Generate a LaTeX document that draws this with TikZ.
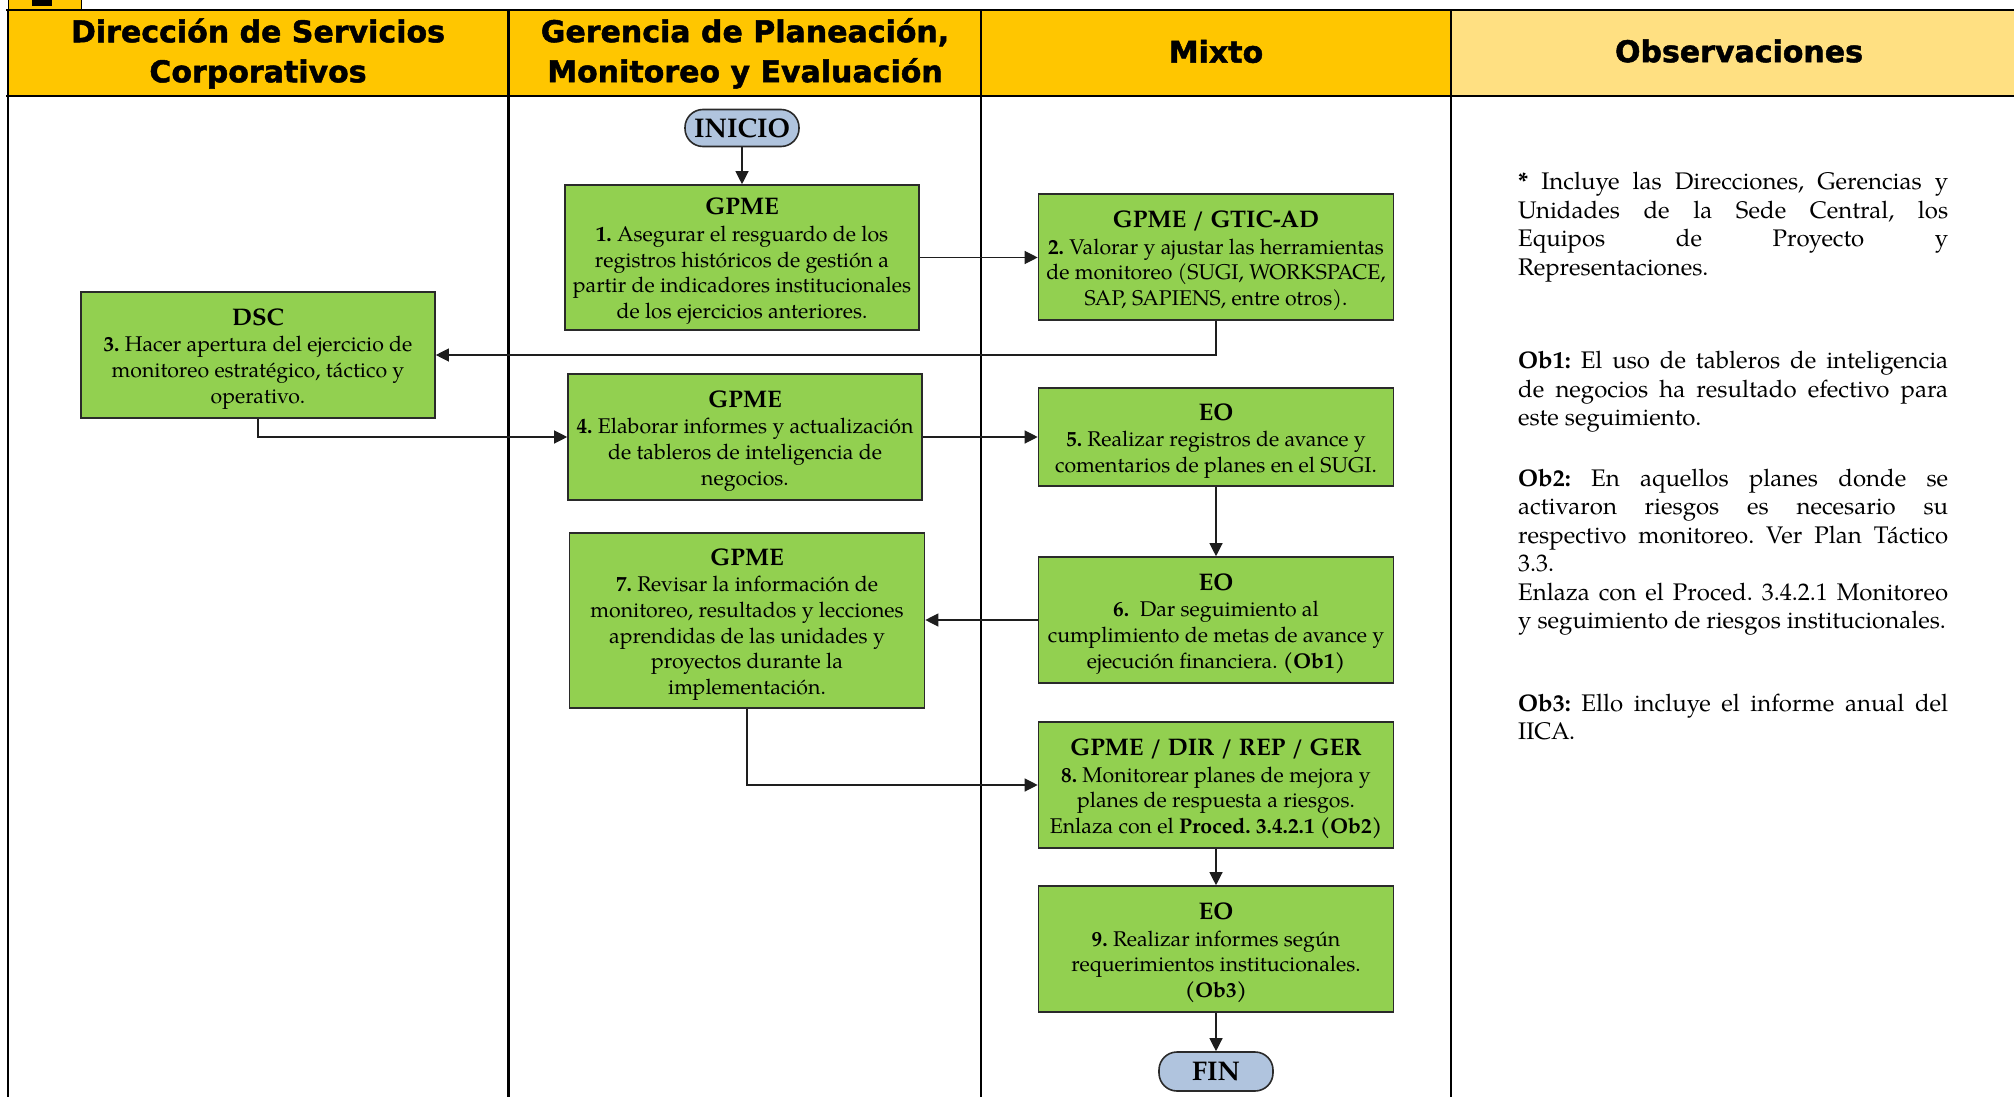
\documentclass[tikz,border=0pt]{standalone}
\usepackage{fontspec}
\setmainfont{TeX Gyre Pagella}
\newfontfamily\hdrfont{DejaVu Sans}[BoldFeatures={FakeBold=1.6}]
\usetikzlibrary{arrows.meta}
\definecolor{gold}{HTML}{FFC600}
\definecolor{lgold}{HTML}{FFE082}
\definecolor{boxgreen}{HTML}{92D050}
\definecolor{boxline}{HTML}{2A2A2A}
\definecolor{termblue}{HTML}{B0C4DE}
\definecolor{arrline}{HTML}{1E1E1E}
\newcommand\ttl[1]{{\fontsize{24}{28}\selectfont\bfseries\rule{0pt}{24.5pt}#1}\\[0.8pt]}
\tikzset{
  hdr/.style={align=center, inner sep=0pt, font=\hdrfont\bfseries\fontsize{30}{40}\selectfont},
  stepbox/.style={draw=boxline, line width=1.6pt, fill=boxgreen, inner sep=0pt,
     align=center, font=\fontsize{21.3}{25.7}\selectfont\frenchspacing},
  term/.style={draw=boxline, line width=1.6pt, fill=termblue, rounded corners=18pt,
     minimum width=114pt, inner sep=0pt, font=\fontsize{27}{30}\selectfont\bfseries},
  obs/.style={anchor=north west, inner sep=0pt, text width=430pt, align=justify,
     font=\fontsize{24}{28.5}\selectfont\frenchspacing},
  arr/.style={draw=arrline, line width=1.2pt, -{Triangle[length=13pt,width=13pt]}}
}
\begin{document}
\begin{tikzpicture}[x=1pt,y=-1pt]
\useasboundingbox (0,0) rectangle (2014,1097);
% header band
\fill[gold] (7.7,10) rectangle (1451,96);
\fill[lgold] (1451,10) rectangle (2014,96);
\draw[fill=gold, line width=1.2pt] (8.3,-3) rectangle (81.7,10);
\fill (31.7,-1) rectangle (51.7,5.7);
\draw[line width=2.6pt] (6.4,10) -- (2014,10);
\draw[line width=2.6pt] (6.4,96) -- (2014,96);
\foreach \x in {7.7,508.6,981,1451} \draw[line width=2.4pt] (\x,10) -- (\x,1097);
% header texts
\node[hdr] (h1) at (258,53.4) {Dirección de Servicios\\Corporativos};
\node[hdr] (h2) at (745,53.4) {Gerencia de Planeación,\\Monitoreo y Evaluación};
\node[hdr] (h3) at (1216,51.5) {Mixto};
\node[hdr] (h4) at (1739,51) {Observaciones};
% terminals
\node[term, minimum height=37pt] (inicio) at (742,128) {INICIO};
\node[term, minimum height=39pt] (fin) at (1216,1071.5) {FIN};
% steps
\node[stepbox, minimum width=354pt, minimum height=145pt] (b1) at (742,257.5)
  {\ttl{GPME}\textbf{1.} Asegurar el resguardo de los\\registros históricos de gestión a\\partir de indicadores institucionales\\de los ejercicios anteriores.};
\node[stepbox, minimum width=355pt, minimum height=126pt] (b2) at (1216,257)
  {\ttl{GPME / GTIC-AD}\textbf{2.} Valorar y ajustar las herramientas\\de monitoreo (SUGI, WORKSPACE,\\SAP, SAPIENS, entre otros).};
\node[stepbox, minimum width=354pt, minimum height=126pt] (b3) at (258,355)
  {\ttl{DSC}\textbf{3.} Hacer apertura del ejercicio de\\monitoreo estratégico, táctico y\\operativo.};
\node[stepbox, minimum width=354pt, minimum height=126pt] (b4) at (745,437)
  {\ttl{GPME}\textbf{4.} Elaborar informes y actualización\\de tableros de inteligencia de\\negocios.};
\node[stepbox, minimum width=355pt, minimum height=98pt] (b5) at (1216,437)
  {\ttl{EO}\textbf{5.} Realizar registros de avance y\\comentarios de planes en el SUGI.};
\node[stepbox, minimum width=355pt, minimum height=126pt] (b6) at (1216,620)
  {\ttl{EO}\textbf{6.}\ \ Dar seguimiento al\\cumplimiento de metas de avance y\\ejecución financiera. \textbf{(Ob1)}};
\node[stepbox, minimum width=355pt, minimum height=175pt] (b7) at (747,620.5)
  {\ttl{GPME}\textbf{7.} Revisar la información de\\monitoreo, resultados y lecciones\\aprendidas de las unidades y\\proyectos durante la\\implementación.};
\node[stepbox, minimum width=355pt, minimum height=126pt] (b8) at (1216,785)
  {\ttl{GPME / DIR / REP / GER}\textbf{8.} Monitorear planes de mejora y\\planes de respuesta a riesgos.\\Enlaza con el \textbf{Proced. 3.4.2.1 (Ob2)}};
\node[stepbox, minimum width=355pt, minimum height=126pt] (b9) at (1216,949)
  {\ttl{EO}\textbf{9.} Realizar informes según\\requerimientos institucionales.\\\textbf{(Ob3)}};
% connectors
\draw[arr] (inicio) -- (b1);
\draw[arr] (b1.east) -- (b1.east -| b2.west);
\draw[arr] (b2.south) |- (b3.east);
\draw[arr] (b3.south) |- (b4.west);
\draw[arr] (b4.east) -- (b4.east -| b5.west);
\draw[arr] (b5) -- (b6);
\draw[arr] (b6.west) -- (b6.west -| b7.east);
\draw[arr] (b7.south) |- (b8.west);
\draw[arr] (b8) -- (b9);
\draw[arr] (b9) -- (fin);
% observations
\node[obs] (o1) at (1518,169.5) {\tolerance=10000\hyphenpenalty=10000\strut\textbf{*} Incluye las Direcciones, Gerencias y\linebreak Unidades de la Sede Central, los\linebreak Equipos de Proyecto y\linebreak Representaciones.};
\node[obs] (o2) at (1518,348.5) {\tolerance=10000\hyphenpenalty=10000\strut\textbf{Ob1:} El uso de tableros de inteligencia\linebreak de negocios ha resultado efectivo para\linebreak este seguimiento.};
\node[obs] (o3) at (1518,466) {\tolerance=10000\hyphenpenalty=10000\strut\textbf{Ob2:} En aquellos planes donde se\linebreak activaron riesgos es necesario su\linebreak respectivo monitoreo. Ver Plan Táctico\linebreak 3.3.\par Enlaza con el Proced. 3.4.2.1 Monitoreo\linebreak y seguimiento de riesgos institucionales.};
\node[obs] (o4) at (1518,691) {\tolerance=10000\hyphenpenalty=10000\strut\textbf{Ob3:} Ello incluye el informe anual del\linebreak IICA.};
\end{tikzpicture}
\end{document}
